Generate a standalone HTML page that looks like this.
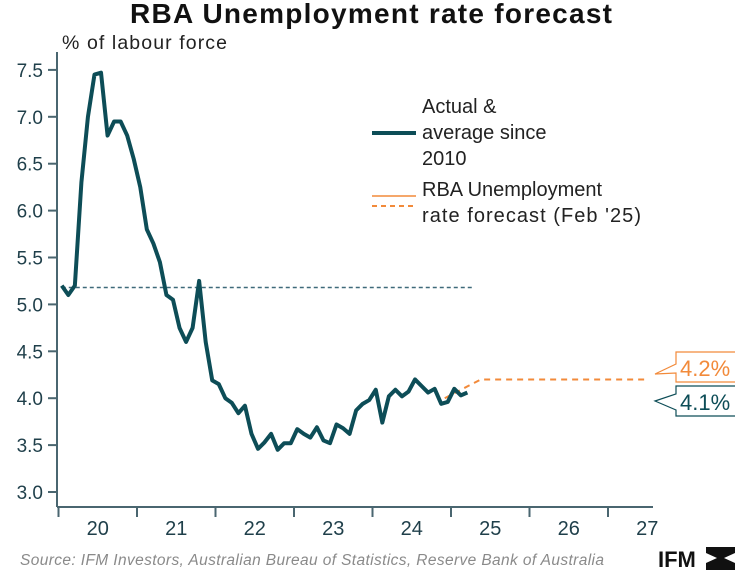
<!DOCTYPE html>
<html><head><meta charset="utf-8"><style>
body{margin:0;background:#fff;width:735px;height:583px;overflow:hidden;font-family:"Liberation Sans",sans-serif}
</style></head><body>
<svg width="735" height="583" font-family="Liberation Sans, sans-serif">
<text x="371" y="23" text-anchor="middle" font-size="28" font-weight="bold" fill="#111" textLength="482">RBA Unemployment rate forecast</text>
<text x="62" y="49" font-size="19.5" fill="#222" textLength="165">% of labour force</text>
<g id="axes"></g>
<g id="marks"></g>
<g>
<line x1="372" y1="133" x2="416" y2="133" stroke="#0d4d57" stroke-width="4"/>
<text font-size="20" fill="#222"><tspan x="422" y="113">Actual &amp;</tspan><tspan x="422" y="139">average since</tspan><tspan x="422" y="165">2010</tspan></text>
<line x1="372" y1="196" x2="416" y2="196" stroke="#f28a3a" stroke-width="1.5"/>
<line x1="372" y1="206" x2="416" y2="206" stroke="#f28a3a" stroke-width="2" stroke-dasharray="5,4"/>
<text font-size="20" fill="#222"><tspan x="422" y="196">RBA Unemployment</tspan><tspan x="422" y="222" textLength="219">rate forecast (Feb '25)</tspan></text>
</g>
<g>
<path d="M676,352 H736 V382 H676 V373 L655,374 L676,364 Z" fill="#fff" stroke="#f28a3a" stroke-width="1.2"/>
<text x="680" y="376" font-size="22" fill="#f28a3a">4.2%</text>
</g>
<g>
<path d="M676,386 H736 V416 H676 V410 L655,401 L676,394 Z" fill="#fff" stroke="#0d4d57" stroke-width="1.2"/>
<text x="680" y="410" font-size="22" fill="#0d4d57">4.1%</text>
</g>
<text x="20" y="565" font-size="15.5" font-style="italic" fill="#8a8a8a" textLength="584">Source: IFM Investors, Australian Bureau of Statistics, Reserve Bank of Australia</text>
<g>
<text x="658" y="567" font-size="22" font-weight="bold" fill="#111">IFM</text>
<path d="M706,547 L735,547 L735,553 L724,558 L735,563 L735,570 L706,570 L706,563 L717,558 L706,553 Z" fill="#111"/>
</g>
</svg>
<script>
const yTicks=[3.0,3.5,4.0,4.5,5.0,5.5,6.0,6.5,7.0,7.5];
const xYears=[20,21,22,23,24,25,26,27];
const actual=[5.2,5.1,5.2,6.3,7.0,7.45,7.47,6.8,6.95,6.95,6.8,6.55,6.25,5.8,5.65,5.45,5.1,5.05,4.75,4.6,4.75,5.25,4.6,4.19,4.15,4.0,3.95,3.84,3.92,3.62,3.46,3.53,3.62,3.45,3.52,3.52,3.67,3.62,3.58,3.69,3.55,3.52,3.72,3.68,3.62,3.87,3.94,3.98,4.09,3.74,4.02,4.09,4.02,4.07,4.2,4.13,4.06,4.1,3.94,3.96,4.1,4.03,4.06];
const average=5.18;
const fcX=[2024.92,2025.38,2027.48];
const fcY=[4.0,4.2,4.2];
const NS='http://www.w3.org/2000/svg';
const x0=58.5,pxYr=78.5,axisY=507,axisEnd=653;
function X(t){return x0+(t-2020)*pxYr;}
function Y(v){return 492-(v-3)*93.8;}
function mk(tag,at,parent){const e=document.createElementNS(NS,tag);for(const k in at)e.setAttribute(k,at[k]);parent.appendChild(e);return e;}
const ax=document.getElementById('axes'),mg=document.getElementById('marks');
const yl=mk('line',{x1:57,y1:52,x2:57,y2:axisY,stroke:'#4a6670','stroke-width':2},ax);


const xl=mk('line',{x1:57,y1:axisY,x2:axisEnd,y2:axisY,stroke:'#4a6670','stroke-width':2},ax);


yTicks.forEach(v=>{
 const t=mk('line',{x1:48,y1:Y(v),x2:57,y2:Y(v),stroke:'#4a6670','stroke-width':2},ax);
 
 
 const l=mk('text',{x:43,y:Y(v)+7,'text-anchor':'end','font-size':19,fill:'#1f3f4a'},ax);
 l.textContent=v.toFixed(1);
 
 
});
xYears.forEach((yr,i)=>{
 const t=mk('line',{x1:X(2000+yr),y1:axisY,x2:X(2000+yr),y2:axisY+10,stroke:'#4a6670','stroke-width':2},ax);
 
 
 const cx=X(2000+yr+0.5);
 if(cx<axisEnd){
 const l=mk('text',{x:cx,y:axisY+28,'text-anchor':'middle','font-size':20,fill:'#1f3f4a'},ax);
 l.textContent=yr;
 
 }
});
const avg=mk('line',{x1:X(2020+0.5/12),y1:Y(average),x2:472,y2:Y(average),stroke:'#3f6a7a','stroke-width':1.5,'stroke-dasharray':'4,3'},mg);


const fc=mk('polyline',{points:fcX.map((t,i)=>X(t)+','+Y(fcY[i])).join(' '),fill:'none',stroke:'#f28a3a','stroke-width':2,'stroke-dasharray':'6,5'},mg);


const ac=mk('polyline',{points:actual.map((v,i)=>X(2020+(i+0.5)/12)+','+Y(v)).join(' '),fill:'none',stroke:'#0d4d57','stroke-width':4,'stroke-linejoin':'round'},mg);


</script>
</body></html>
